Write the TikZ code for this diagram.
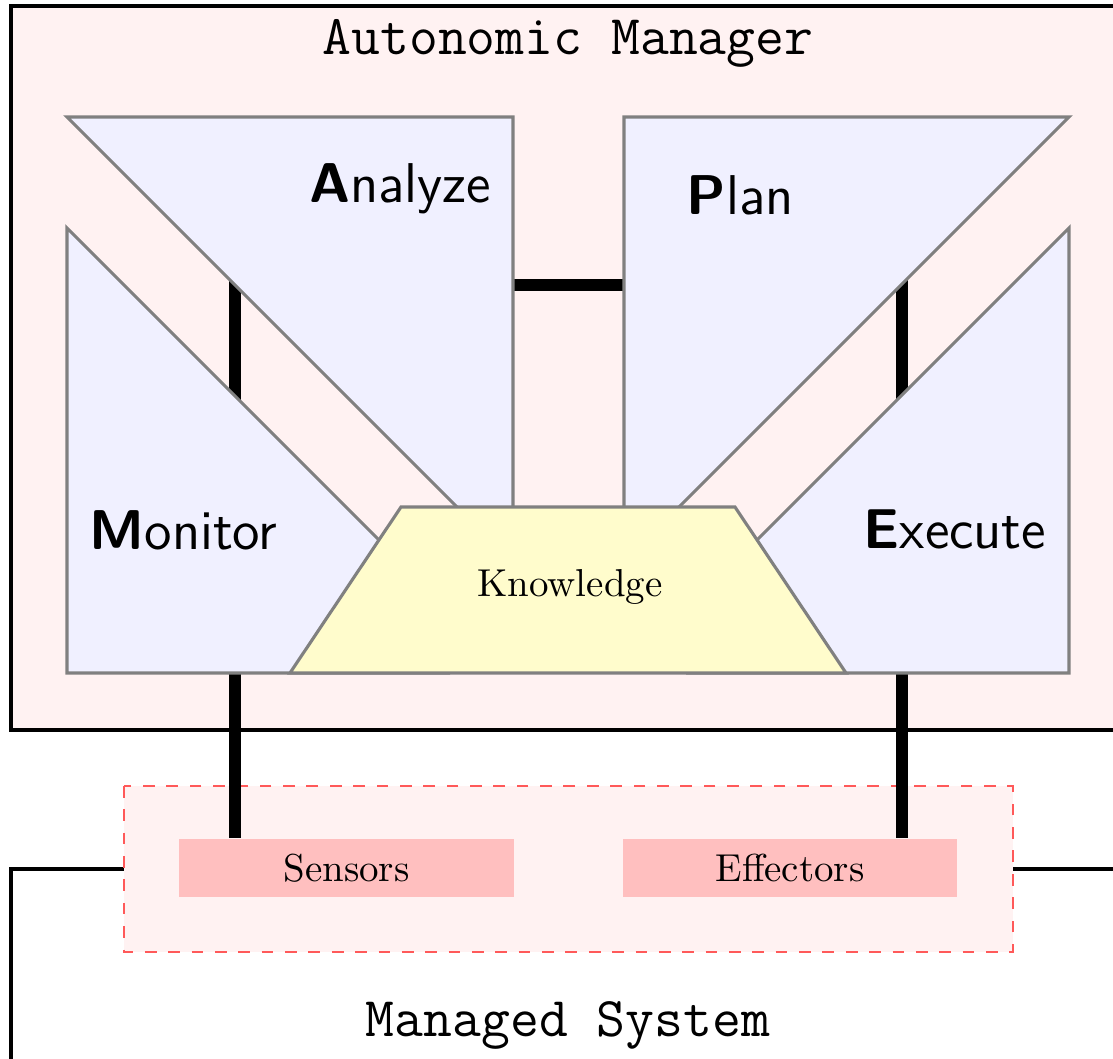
\documentclass[tikz,border=0pt]{standalone}
\usetikzlibrary{calc}
\begin{document}
\begin{tikzpicture}[x=0.2568pt,y=-0.2568pt,
  mapefill/.style={fill=blue!6, draw=none},
  mapeline/.style={draw=gray, line width=0.8pt, line join=miter},
  knowbox/.style={fill=yellow!20, draw=gray, line width=0.8pt, line join=miter},
  link/.style={line width=3.1pt, draw=black},
  lbl/.style={font=\sffamily\Large, inner sep=0pt},
  ttl/.style={font=\ttfamily\Large, inner sep=0pt, anchor=base},
  iobox/.style={fill=red!25, draw=none, minimum width=86pt, minimum height=14.9pt, inner sep=0pt}]
\useasboundingbox (0,0) rectangle (1113,1059);
\clip (0,0) rectangle (1113,1059);
% Autonomic manager
\draw[fill=red!5, line width=1.2pt] (11,6) rectangle (1150,730);
\node[ttl] (amtitle) at (568,55) {Autonomic Manager};
% Managed system
\draw[line width=1pt] (11,869) rectangle (1150,1100);
\node[ttl] (mstitle) at (568,1037) {Managed System};
% touchpoint
\draw[fill=red!5, draw=red!65, dashed, line width=0.4pt] (124,786) rectangle (1013,952);
\node[iobox] (sens) at (346.5,868) {Sensors};
\node[iobox] (eff) at (790,868) {Effectors};
% connector anchors (inside the shapes)
\coordinate (A-p) at (500,285);
\coordinate (P-a) at (640,285);
\coordinate (A-m) at (235,265);
\coordinate (M-a) at (235,420);
\coordinate (P-e) at (902,265);
\coordinate (E-p) at (902,420);
\coordinate (M-s) at (235,650);
\coordinate (E-e) at (902,650);
% connectors
\draw[link] (A-p) -- (P-a);
\draw[link] (A-m) -- (M-a);
\draw[link] (P-e) -- (E-p);
\draw[link] (M-s) -- (M-s |- sens.north);
\draw[link] (E-e) -- (E-e |- eff.north);
% MAPE shapes (their hidden ends lie under the Knowledge trapezoid)
\fill[mapefill] (67,117) -- (513,117) -- (513,563) -- cycle;
\fill[mapefill] (624,117) -- (1069,117) -- (624,562) -- cycle;
\fill[mapefill] (67,228) -- (67,673) -- (512,673) -- cycle;
\fill[mapefill] (1069,228) -- (1069,673) -- (624,673) -- cycle;
\draw[mapeline] (490,540) -- (67,117) -- (513,117) -- (513,540);
\draw[mapeline] (624,540) -- (624,117) -- (1069,117) -- (646,540);
\draw[mapeline] (450,611) -- (67,228) -- (67,673) -- (450,673);
\draw[mapeline] (686,611) -- (1069,228) -- (1069,673) -- (686,673);
\draw[knowbox] (401,507) -- (735,507) -- (846,673) -- (290,673) -- cycle;
\node[inner sep=0pt, anchor=base] (know) at (570,597) {Knowledge};
% labels
\node[lbl, anchor=base east] (alab) at (492,203) {\textbf{A}nalyze};
\node[lbl, anchor=base west] (plab) at (686,215) {\textbf{P}lan};
\node[lbl, anchor=base west] (mlab) at (89,550) {\textbf{M}onitor};
\node[lbl, anchor=base east] (elab) at (1047,549) {\textbf{E}xecute};
\end{tikzpicture}
\end{document}
